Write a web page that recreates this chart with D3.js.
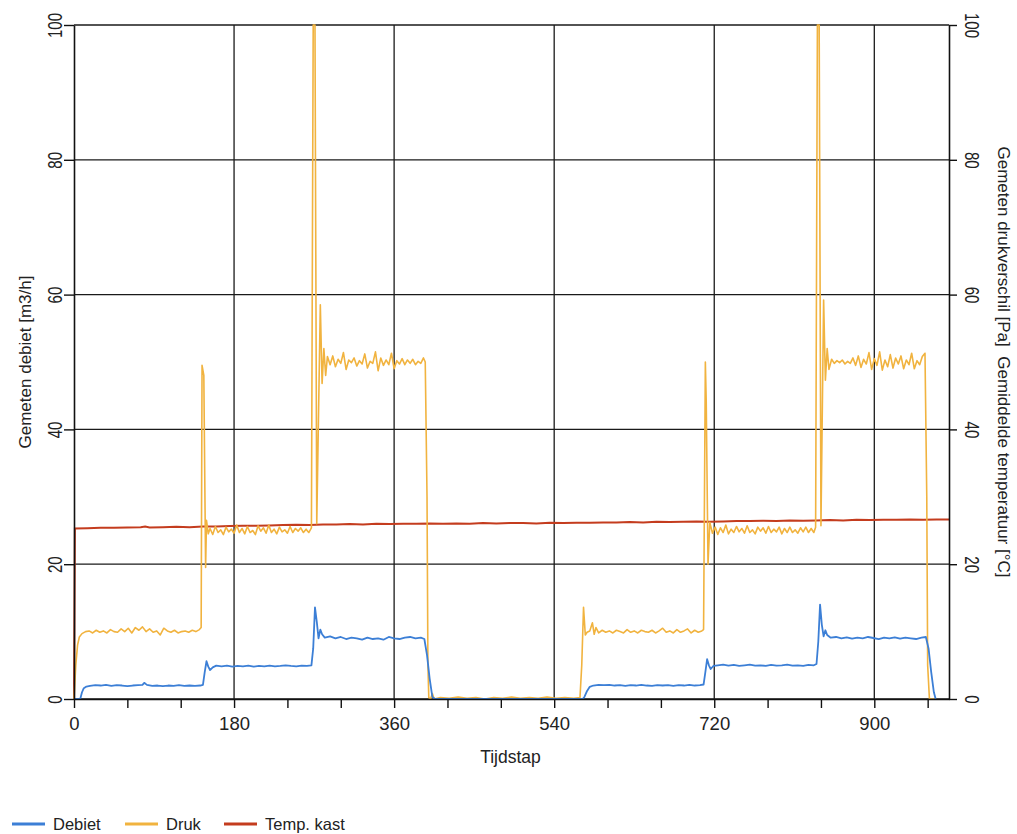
<!DOCTYPE html>
<html>
<head>
<meta charset="utf-8">
<script src="https://cdn.jsdelivr.net/npm/d3@7"></script>
<style>
  body { margin: 0; background: #fff; }
  svg { font-family: "Liberation Sans", Arial, sans-serif; }
</style>
</head>
<body>
<svg id="chart"></svg>
<script>

// tick values
var xTickValues = [0, 60, 120, 180, 240, 300, 360, 420, 480, 540, 600, 660, 720, 780, 840, 900, 960];
var xGridValues = [180, 360, 540, 720, 900];
var yTickValues = [0, 20, 40, 60, 80, 100];

var seriesNames = ["Debiet", "Druk", "Temp. kast"];
var seriesColors = ["#3c7fd6", "#f1b33f", "#c43c1e"];

// [tijdstap, waarde]
var debiet = [
  [0,0],[7,0],[9,1.0],[11,1.6],[14,1.85],[18,1.95],[24,2.05],[30,2.0],[36,2.1],[42,1.95],[48,2.05],[54,2.0],[60,1.9],[66,2.0],[72,2.05],[77,2.1],[79,2.4],[82,2.1],[88,1.95],[94,2.0],[100,1.9],[106,2.0],[112,1.95],[118,2.05],[124,1.95],[130,2.0],[136,1.95],[142,2.0],[145,2.1],
  [147,4.0],[149,5.6],[151,4.8],[153,4.3],[156,4.7],[160,4.95],[166,4.85],[172,4.95],[178,4.8],[184,4.9],[190,4.85],[196,4.95],[202,4.8],[208,4.9],[214,4.85],[220,4.95],[226,4.85],[232,4.9],[238,5.0],[244,4.9],[250,4.85],[256,4.95],[262,4.9],[267,5.0],
  [269,7.5],[271,13.6],[273,11.5],[275,9.0],[277,10.3],[279,9.6],[282,9.1],[288,9.3],[294,9.0],[300,9.2],[306,8.9],[312,9.1],[318,9.0],[324,8.8],[330,9.1],[336,8.9],[342,9.0],[348,8.8],[354,9.2],[360,9.0],[366,8.9],[372,9.1],[378,9.2],[384,9.0],[390,9.1],[394,8.9],[397,6.5],[400,3.0],[403,0.3],[406,0],
  [572,0],[574,0.3],[577,1.2],[580,1.8],[584,2.0],[590,2.1],[596,2.05],[602,2.1],[608,2.0],[614,2.05],[620,1.95],[626,2.05],[632,2.0],[638,2.1],[644,2.0],[650,1.95],[656,2.05],[662,2.0],[668,2.05],[674,1.95],[680,2.05],[686,2.0],[692,2.1],[698,2.0],[704,2.05],[708,2.15],
  [710,4.0],[712,5.9],[714,5.0],[716,4.45],[719,4.9],[724,5.0],[730,5.1],[736,4.95],[742,5.05],[748,4.9],[754,5.0],[760,5.1],[766,4.95],[772,5.0],[778,4.9],[784,5.05],[790,4.95],[796,5.0],[802,5.1],[808,4.95],[814,5.0],[820,4.9],[826,5.05],[832,5.0],[835,5.2],
  [837,8.5],[839,14.0],[841,11.0],[843,9.3],[845,10.2],[847,9.5],[851,9.1],[857,9.2],[863,9.0],[869,9.15],[875,8.95],[881,9.1],[887,9.0],[893,9.2],[899,9.05],[905,8.9],[911,9.1],[917,9.0],[923,9.15],[929,8.95],[935,9.1],[941,9.0],[947,8.9],[953,9.1],[958,9.2],
  [961,7.5],[964,4.0],[967,1.0],[969,0]
];

var druk = [
  [0,0],[2,5],[4,8],[6,9.2],[9,9.7],[13,10.0],[17,10.1],[21,9.8],[25,10.2],[29,9.9],[33,10.1],[37,9.8],[41,10.3],[45,10.0],[49,9.9],[53,10.4],[57,10.0],[61,10.5],[65,9.8],[69,10.6],[73,10.2],[77,10.7],[81,10.0],[85,10.4],[89,9.9],[93,10.1],[97,9.5],[101,10.5],[105,10.1],[109,9.9],[113,10.2],[117,9.8],[121,10.0],[125,10.1],[129,9.9],[133,10.2],[137,10.0],[141,10.3],[143,10.6],
  [144,49.5],[146,48],[148,19.5],[149,26.5],[151,24.5],[153,25.3],[156,24.4],[159,25.6],[162,24.7],[165,25.1],[168,24.4],[171,25.5],[174,24.8],[177,25.2],[180,24.6],[183,25.8],[186,24.7],[189,25.3],[192,24.5],[195,25.6],[198,24.7],[201,25.0],[204,24.4],[207,25.7],[210,24.9],[213,25.4],[216,24.6],[219,25.8],[222,24.7],[225,25.2],[228,24.5],[231,25.5],[234,24.8],[237,25.1],[240,24.6],[243,25.6],[246,24.7],[249,25.3],[252,24.9],[255,25.4],[258,24.7],[261,25.2],[264,24.7],[267,25.4],
  [269,100],[271,100],[273,26],[277,58.5],[279,46.8],[281,52.0],[283,48.0],[285,50.8],[288,49.6],[291,50.9],[294,49.3],[297,50.4],[300,49.8],[303,51.4],[306,48.9],[309,50.3],[312,49.9],[315,50.6],[318,49.4],[321,50.2],[324,49.7],[327,51.2],[330,49.1],[333,50.1],[336,49.8],[339,51.5],[342,48.7],[345,50.6],[348,49.5],[351,50.3],[354,49.6],[357,51.3],[360,49.0],[363,50.2],[366,49.7],[369,50.5],[372,49.6],[375,50.3],[378,49.8],[381,50.4],[384,49.6],[387,50.1],[390,49.8],[393,50.6],[395,50.0],
  [397,30],[398,5],[399,0.2],[401,0],[403,0.8],[405,0],[412,0.2],[422,0.1],[432,0.3],[442,0.1],[452,0.2],[462,0],[472,0.2],[482,0.1],[492,0.3],[502,0.1],[512,0.2],[522,0.1],[532,0.3],[542,0.1],[552,0.2],[562,0.1],[569,0.2],
  [571,5],[573,13.6],[575,9.5],[577,9.9],[580,10.1],[583,11.3],[585,9.6],[587,10.6],[590,9.8],[594,10.2],[598,9.9],[602,10.1],[606,9.8],[610,10.2],[614,10.0],[618,9.8],[622,10.3],[626,9.9],[630,10.1],[634,9.8],[638,10.2],[642,10.0],[646,9.9],[650,10.2],[654,9.8],[658,10.1],[662,10.5],[666,9.9],[670,10.1],[674,9.8],[678,10.3],[682,9.9],[686,10.1],[690,10.4],[694,9.8],[698,10.2],[702,9.9],[706,10.1],[708,10.3],
  [710,50],[711,44],[713,20],[715,26.2],[718,24.6],[721,25.5],[724,24.4],[727,25.4],[730,24.7],[733,25.8],[736,24.5],[739,25.2],[742,24.7],[745,25.6],[748,24.8],[751,25.3],[754,24.6],[757,25.7],[760,24.7],[763,25.1],[766,24.5],[769,25.5],[772,24.9],[775,25.4],[778,24.6],[781,25.6],[784,24.7],[787,25.2],[790,24.8],[793,25.5],[796,24.5],[799,25.3],[802,24.7],[805,25.5],[808,24.7],[811,25.1],[814,24.6],[817,25.4],[820,24.8],[823,25.5],[826,24.7],[829,25.3],[832,24.7],[834,25.5],
  [836,100],[838,100],[840,25.7],[843,59.2],[845,47.3],[847,52.0],[849,48.9],[852,50.4],[855,49.8],[858,50.2],[861,49.9],[864,50.3],[867,49.7],[870,50.1],[873,49.8],[876,50.6],[879,49.5],[882,50.9],[885,49.2],[888,50.4],[891,49.7],[894,51.4],[897,48.9],[900,50.5],[903,49.5],[906,51.5],[909,48.8],[912,50.3],[915,49.3],[918,51.1],[921,49.1],[924,50.6],[927,49.7],[930,50.9],[933,49.0],[936,50.3],[939,49.6],[942,51.3],[945,49.0],[948,50.2],[951,49.6],[954,50.8],[957,51.3],
  [959,30],[960,5],[962,0],[968,0]
];

var tempKast = [
  [0,0],[1,25.3],[15,25.35],[30,25.4],[45,25.4],[60,25.45],[75,25.5],[80,25.6],[85,25.45],[100,25.5],[115,25.55],[130,25.5],[145,25.6],[160,25.6],[175,25.65],[190,25.7],[205,25.7],[220,25.75],[235,25.8],[250,25.85],[265,25.8],[280,25.9],[295,25.9],[310,25.95],[325,25.9],[340,26.0],[355,25.95],[370,26.0],[385,26.0],[400,26.05],[415,26.0],[430,26.05],[445,26.0],[460,26.1],[475,26.05],[490,26.1],[505,26.1],[520,26.05],[535,26.15],[550,26.1],[565,26.15],[580,26.15],[595,26.2],[610,26.2],[625,26.25],[640,26.2],[655,26.3],[670,26.25],[685,26.3],[700,26.35],[715,26.3],[730,26.35],[745,26.4],[760,26.4],[775,26.45],[790,26.4],[805,26.5],[820,26.45],[835,26.5],[850,26.55],[865,26.5],[880,26.6],[895,26.55],[910,26.6],[925,26.6],[940,26.65],[955,26.6],[970,26.65],[984,26.65]
];

var width = 1017;
var height = 834;
var plotLeft = 74, plotRight = 949, plotTop = 25, plotBottom = 699;

var svg = d3.select("#chart")
    .attr("width", width)
    .attr("height", height);

var x = d3.scaleLinear().domain([0, 984]).range([plotLeft, plotRight]);
var yL = d3.scaleLinear().domain([0, 100]).range([plotBottom, plotTop]);
var yR = d3.scaleLinear().domain([0, 100]).range([plotBottom, plotTop]);

// grid
svg.append("g").selectAll("line")
    .data(yTickValues)
    .enter().append("line")
    .attr("x1", plotLeft).attr("x2", plotRight)
    .attr("y1", function (d) { return yL(d); })
    .attr("y2", function (d) { return yL(d); })
    .attr("stroke", "#1a1a1a").attr("stroke-width", 1.3);

svg.append("g").selectAll("line")
    .data(xGridValues)
    .enter().append("line")
    .attr("x1", function (d) { return x(d); })
    .attr("x2", function (d) { return x(d); })
    .attr("y1", plotTop).attr("y2", plotBottom)
    .attr("stroke", "#1a1a1a").attr("stroke-width", 1.3);

// series
var line = d3.line()
    .x(function (d) { return x(d[0]); })
    .y(function (d) { return yR(d[1]); });

svg.append("path").datum(tempKast)
    .attr("fill", "none").attr("stroke", seriesColors[2]).attr("stroke-width", 2)
    .attr("d", line);
svg.append("path").datum(druk)
    .attr("fill", "none").attr("stroke", seriesColors[1]).attr("stroke-width", 1.6)
    .attr("stroke-linejoin", "round")
    .attr("d", line);
svg.append("path").datum(debiet)
    .attr("fill", "none").attr("stroke", seriesColors[0]).attr("stroke-width", 1.8)
    .attr("stroke-linejoin", "round")
    .attr("d", line.y(function (d) { return yL(d[1]); }));

// axes
function styleAxis(g) {
    g.select(".domain").attr("stroke", "#111").attr("stroke-width", 1.6);
    g.selectAll(".tick line").attr("stroke", "#111").attr("stroke-width", 1.4);
    g.selectAll(".tick text").attr("fill", "#222");
}

var xAxis = d3.axisBottom(x)
    .tickValues(xTickValues)
    .tickSize(9)
    .tickSizeOuter(0)
    .tickPadding(9)
    .tickFormat(function (d) { return d % 180 === 0 ? d : ""; });

svg.append("g")
    .attr("transform", "translate(0," + plotBottom + ")")
    .call(xAxis)
    .call(styleAxis)
    .selectAll("text").attr("font-size", 18.5);

var yAxisL = d3.axisLeft(yL).tickValues(yTickValues).tickSize(10).tickSizeOuter(0);
var gL = svg.append("g")
    .attr("transform", "translate(" + plotLeft + ",0)")
    .call(yAxisL)
    .call(styleAxis);
gL.selectAll(".tick text")
    .attr("x", null).attr("dy", null)
    .attr("text-anchor", "middle")
    .attr("font-size", 15)
    .attr("transform", "translate(-12,0) scale(1.3,1) rotate(-90)");

var yAxisR = d3.axisRight(yR).tickValues(yTickValues).tickSize(8).tickSizeOuter(0);
var gR = svg.append("g")
    .attr("transform", "translate(" + plotRight + ",0)")
    .call(yAxisR)
    .call(styleAxis);
gR.selectAll(".tick text")
    .attr("x", null).attr("dy", null)
    .attr("text-anchor", "middle")
    .attr("font-size", 15)
    .attr("transform", "translate(16,0) scale(1.3,1) rotate(90)");

// titles
svg.append("text")
    .attr("transform", "translate(31," + ((plotTop + plotBottom) / 2) + ") rotate(-90)")
    .attr("text-anchor", "middle")
    .attr("font-size", 17)
    .attr("fill", "#222")
    .text("Gemeten debiet [m3/h]");

svg.append("text")
    .attr("transform", "translate(998," + ((plotTop + plotBottom) / 2) + ") rotate(90)")
    .attr("text-anchor", "middle")
    .attr("font-size", 17)
    .attr("fill", "#222")
    .style("white-space", "pre")
    .text("Gemeten drukverschil [Pa]  Gemiddelde temperatuur [°C]");

svg.append("text")
    .attr("x", (plotLeft + plotRight) / 2 - 1)
    .attr("y", 763)
    .attr("text-anchor", "middle")
    .attr("font-size", 17.5)
    .attr("fill", "#222")
    .text("Tijdstap");

// legend
var legendX = [12, 125, 224];
var legend = svg.append("g").selectAll("g")
    .data(seriesNames)
    .enter().append("g")
    .attr("transform", function (d, i) { return "translate(" + legendX[i] + ",824)"; });

legend.append("line")
    .attr("x1", 0).attr("x2", 33)
    .attr("stroke", function (d, i) { return seriesColors[i]; })
    .attr("stroke-width", 3);

legend.append("text")
    .attr("x", 41).attr("y", 6)
    .attr("font-size", 16.5)
    .attr("fill", "#222")
    .text(function (d) { return d; });

</script>
</body>
</html>
